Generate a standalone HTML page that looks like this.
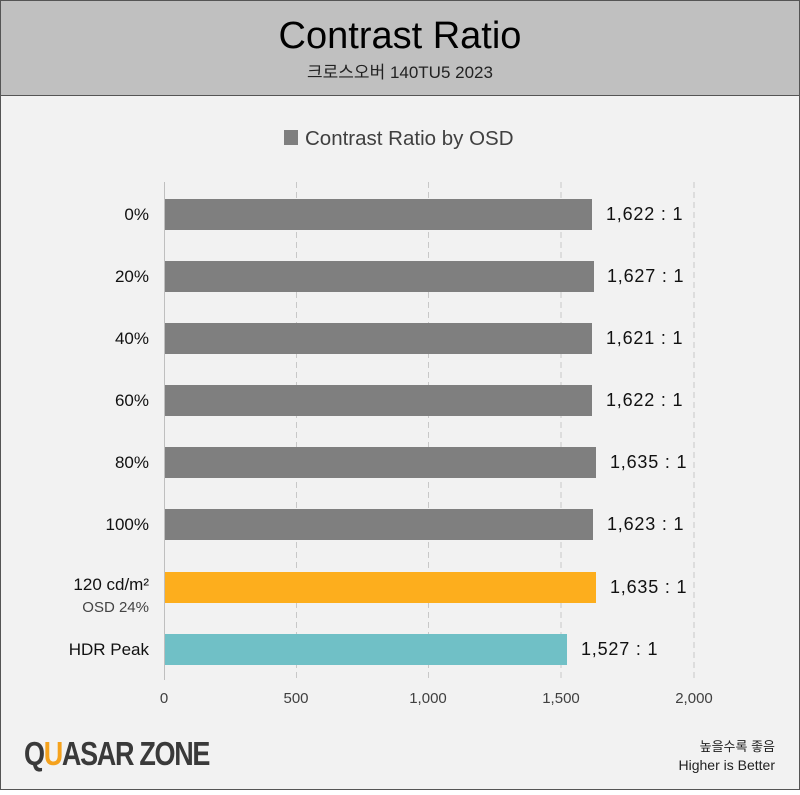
<!DOCTYPE html>
<html><head><meta charset="utf-8"><style>
body{margin:0;width:800px;height:790px;overflow:hidden;font-family:"Liberation Sans","Noto Sans CJK KR",sans-serif;}
</style></head><body>
<svg width="800" height="790" xmlns="http://www.w3.org/2000/svg" font-family="Liberation Sans, Noto Sans CJK KR, sans-serif">
<rect x="0.5" y="0.5" width="799" height="789" fill="#f2f2f2" stroke="#555"/>
<rect x="0.5" y="0.5" width="799" height="95" fill="#c0c0c0" stroke="#555"/>
<text x="400" y="48" text-anchor="middle" font-size="38" fill="#000">Contrast Ratio</text>
<text x="400" y="78" text-anchor="middle" font-size="17" fill="#222">크로스오버 140TU5 2023</text>
<rect x="284" y="130" width="14" height="15" fill="#7f7f7f"/>
<text x="305" y="145" font-size="20.5" fill="#404040">Contrast Ratio by OSD</text>
<g stroke="#c8c8c8" stroke-dasharray="6,4">
<line x1="296.5" y1="182" x2="296.5" y2="680"/><line x1="428.5" y1="182" x2="428.5" y2="680"/>
<line x1="561" y1="182" x2="561" y2="680"/><line x1="694" y1="182" x2="694" y2="680"/>
</g>
<line x1="164.5" y1="182" x2="164.5" y2="680" stroke="#bfbfbf"/>
<g font-size="15" fill="#404040" text-anchor="middle">
<text x="164" y="703">0</text><text x="296" y="703">500</text><text x="428" y="703">1,000</text><text x="561" y="703">1,500</text><text x="694" y="703">2,000</text>
</g>
<g fill="#7f7f7f">
<rect x="165" y="199" width="427" height="31"/>
<rect x="165" y="261" width="429" height="31"/>
<rect x="165" y="323" width="427" height="31"/>
<rect x="165" y="385" width="427" height="31"/>
<rect x="165" y="447" width="431" height="31"/>
<rect x="165" y="509" width="428" height="31"/>
</g>
<rect x="165" y="572" width="431" height="31" fill="#fdae1d"/>
<rect x="165" y="634" width="402" height="31" fill="#70c0c6"/>
<g font-size="17" fill="#111" text-anchor="end">
<text x="149" y="220">0%</text><text x="149" y="282">20%</text><text x="149" y="344">40%</text>
<text x="149" y="406">60%</text><text x="149" y="468">80%</text><text x="149" y="530">100%</text>
<text x="149" y="590">120 cd/m²</text><text x="149" y="655">HDR Peak</text>
</g>
<text x="149" y="612" font-size="15" fill="#444" text-anchor="end">OSD 24%</text>
<g font-size="18" fill="#111" letter-spacing="0.8">
<text x="606" y="220">1,622 : 1</text><text x="607" y="282">1,627 : 1</text><text x="606" y="344">1,621 : 1</text>
<text x="606" y="406">1,622 : 1</text><text x="610" y="468">1,635 : 1</text><text x="607" y="530">1,623 : 1</text>
<text x="610" y="593">1,635 : 1</text><text x="581" y="655">1,527 : 1</text>
</g>
<g font-size="27" font-weight="bold" fill="#3a3a3a" letter-spacing="-1.3">
<text x="24" y="764" transform="scale(1,1.25) translate(0,-152)">Q<tspan fill="#f5a21d">U</tspan>ASAR ZONE</text>
</g>
<text x="775" y="751" font-size="13" fill="#222" text-anchor="end">높을수록 좋음</text>
<text x="775" y="770" font-size="14" fill="#222" text-anchor="end">Higher is Better</text>
</svg>
</body></html>
